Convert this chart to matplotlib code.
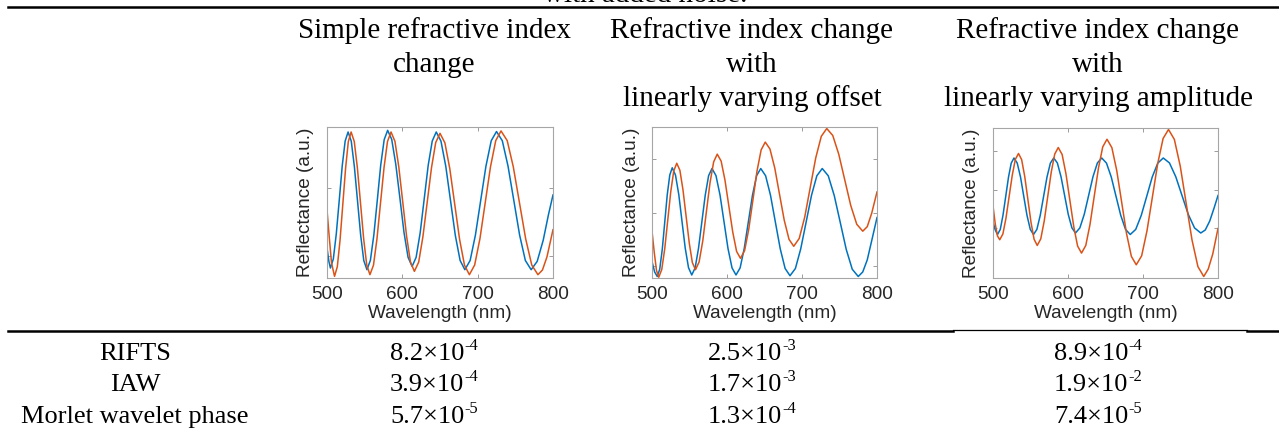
import matplotlib
matplotlib.use("Agg")
import matplotlib.pyplot as plt
from matplotlib.lines import Line2D

# ---------------------------------------------------------------- table text
col_titles = [
    ["Simple refractive index", "change"],
    ["Refractive index change", "with", "linearly varying offset"],
    ["Refractive index change", "with", "linearly varying amplitude"],
]
methods = ["RIFTS", "IAW", "Morlet wavelet phase"]
mantissas = [
    ["8.2", "2.5", "8.9"],
    ["3.9", "1.7", "1.9"],
    ["5.7", "1.3", "7.4"],
]
exponents = [
    ["-4", "-3", "-4"],
    ["-4", "-3", "-2"],
    ["-5", "-4", "-5"],
]

# ---------------------------------------------------------------- spectra
# Simple refractive index change
wl_s_blue = [500, 502.5, 504.5, 508.4, 512.3, 516.3, 520.2, 524.1, 528, 532.2, 536.3, 540.5,
             544.7, 548.8, 553, 557.6, 562.2, 566.8, 571.3, 575.9, 580.5, 585.9, 591.3, 596.8,
             602.2, 607.6, 613, 618.3, 623.7, 629, 634.3, 639.7, 645, 651.3, 657.7, 664, 670.3,
             676.7, 683, 690, 697, 704, 711, 718, 725, 732.7, 740.3, 748, 755.7, 763.3, 771,
             779, 787, 794, 800]
r_s_blue = [0.20, 0.11, 0.066, 0.126, 0.291, 0.517, 0.742, 0.907, 0.967, 0.906, 0.739, 0.511,
            0.283, 0.116, 0.055, 0.117, 0.286, 0.517, 0.747, 0.916, 0.978, 0.918, 0.753, 0.528,
            0.302, 0.137, 0.077, 0.137, 0.30, 0.522, 0.745, 0.907, 0.967, 0.906, 0.739, 0.511,
            0.283, 0.116, 0.055, 0.116, 0.284, 0.513, 0.741, 0.909, 0.97, 0.909, 0.741, 0.513,
            0.284, 0.116, 0.055, 0.11, 0.25, 0.42, 0.55]
wl_s_orange = [500, 503, 506, 510, 513.7, 517.3, 521, 524.7, 528.3, 532, 536.2, 540.3, 544.5,
               548.7, 552.8, 557, 561.7, 566.3, 571, 575.7, 580.3, 585, 590.2, 595.3, 600.5,
               605.7, 610.8, 616, 621.7, 627.3, 633, 638.7, 644.3, 650, 656.5, 663, 669.5, 676,
               682.5, 689, 696, 703, 710, 717, 724, 731, 739.2, 747.3, 755.5, 763.7, 771.8, 780,
               786, 792, 800]
r_s_orange = [0.45, 0.27, 0.10, 0.011, 0.075, 0.25, 0.489, 0.728, 0.903, 0.967, 0.904, 0.731,
              0.495, 0.258, 0.085, 0.022, 0.085, 0.258, 0.495, 0.731, 0.904, 0.967, 0.905, 0.736,
              0.506, 0.275, 0.106, 0.044, 0.105, 0.273, 0.501, 0.73, 0.897, 0.958, 0.895, 0.724,
              0.49, 0.256, 0.085, 0.022, 0.086, 0.26, 0.498, 0.736, 0.91, 0.974, 0.91, 0.736,
              0.498, 0.26, 0.086, 0.022, 0.053, 0.14, 0.32]

# Refractive index change with linearly varying offset
wl_o_blue = [500, 503.5, 507, 510.3, 513.7, 517, 520.3, 523.7, 527, 531.3, 535.7, 540, 544.3,
             548.7, 553, 557.5, 562, 566.5, 571, 575.5, 580, 585.3, 590.7, 596, 601.3, 606.7,
             612, 617.5, 623, 628.5, 634, 639.5, 645, 651.5, 658, 664.5, 671, 677.5, 684, 691.2,
             698.3, 705.5, 712.7, 719.8, 727, 735, 743, 751, 759, 767, 775, 781, 787, 794, 800]
r_o_blue = [0.11, 0.04, 0.01, 0.058, 0.19, 0.37, 0.55, 0.682, 0.73, 0.682, 0.553, 0.375, 0.198,
            0.068, 0.02, 0.067, 0.196, 0.373, 0.549, 0.678, 0.725, 0.678, 0.549, 0.373, 0.196,
            0.067, 0.02, 0.067, 0.196, 0.373, 0.549, 0.678, 0.725, 0.677, 0.548, 0.37, 0.193,
            0.063, 0.015, 0.063, 0.193, 0.37, 0.548, 0.677, 0.725, 0.677, 0.546, 0.368, 0.189,
            0.058, 0.01, 0.04, 0.12, 0.27, 0.40]
wl_o_orange = [500, 503, 506, 509, 513, 517, 521, 525, 529, 533, 537.2, 541.3, 545.5, 549.7,
               553.8, 558, 562.8, 567.7, 572.5, 577.3, 582.2, 587, 592.2, 597.3, 602.5, 607.7,
               612.8, 618, 623.5, 629, 634.5, 640, 645.5, 651, 657.3, 663.7, 670, 676.3, 682.7,
               689, 696.3, 703.7, 711, 718.3, 725.7, 733, 741, 749, 757, 765, 773, 781, 787, 793,
               800]
r_o_orange = [0.31, 0.17, 0.05, 0.005, 0.056, 0.194, 0.383, 0.571, 0.709, 0.76, 0.713, 0.584,
              0.408, 0.231, 0.102, 0.055, 0.106, 0.246, 0.438, 0.629, 0.769, 0.82, 0.774, 0.648,
              0.475, 0.303, 0.176, 0.13, 0.182, 0.323, 0.515, 0.708, 0.848, 0.90, 0.854, 0.728,
              0.555, 0.383, 0.256, 0.21, 0.262, 0.405, 0.60, 0.795, 0.938, 0.99, 0.944, 0.82,
              0.65, 0.48, 0.356, 0.31, 0.34, 0.43, 0.57]

# Refractive index change with linearly varying amplitude
wl_a_blue = [500, 503, 506, 509.7, 513.3, 517, 520.7, 524.3, 528, 532.3, 536.7, 541, 545.3,
             549.7, 554, 558.5, 563, 567.5, 572, 576.5, 581, 585.8, 590.7, 595.5, 600.3, 605.2,
             610, 615.8, 621.7, 627.5, 633.3, 639.2, 645, 651.3, 657.7, 664, 670.3, 676.7, 683,
             690.3, 697.7, 705, 712.3, 719.7, 727, 735.3, 743.7, 752, 760.3, 768.7, 777, 783,
             789, 795, 800]
r_a_blue = [0.376, 0.32, 0.29, 0.324, 0.418, 0.545, 0.673, 0.766, 0.80, 0.766, 0.673, 0.545,
            0.418, 0.324, 0.29, 0.324, 0.418, 0.545, 0.673, 0.766, 0.80, 0.767, 0.675, 0.55,
            0.425, 0.334, 0.30, 0.334, 0.425, 0.55, 0.675, 0.767, 0.80, 0.766, 0.673, 0.545,
            0.418, 0.324, 0.29, 0.324, 0.418, 0.545, 0.673, 0.766, 0.80, 0.767, 0.675, 0.55,
            0.425, 0.334, 0.30, 0.32, 0.38, 0.47, 0.55]
wl_a_orange = [500, 503, 506, 509, 513.2, 517.3, 521.5, 525.7, 529.8, 534, 538.2, 542.3, 546.5,
               550.7, 554.8, 559, 563.7, 568.3, 573, 577.7, 582.3, 587, 592.2, 597.3, 602.5,
               607.7, 612.8, 618, 623.7, 629.3, 635, 640.7, 646.3, 652, 658.5, 665, 671.5, 678,
               684.5, 691, 698.2, 705.3, 712.5, 719.7, 726.8, 734, 741.8, 749.7, 757.5, 765.3,
               773.2, 781, 787, 793, 800]
r_a_orange = [0.48, 0.36, 0.28, 0.255, 0.294, 0.399, 0.543, 0.686, 0.791, 0.83, 0.789, 0.677,
              0.524, 0.37, 0.258, 0.217, 0.261, 0.38, 0.544, 0.707, 0.826, 0.87, 0.823, 0.694,
              0.518, 0.342, 0.213, 0.166, 0.217, 0.356, 0.546, 0.735, 0.874, 0.925, 0.869,
              0.716, 0.507, 0.297, 0.144, 0.088, 0.148, 0.314, 0.539, 0.765, 0.93, 0.99, 0.924,
              0.745, 0.50, 0.255, 0.076, 0.01, 0.06, 0.16, 0.33]

wl_ticks = [500, 600, 700, 800]
refl_ticks = [
    [0.149, 0.598],
    [0.081, 0.429, 0.785],
    [0.332, 0.586, 0.847],
]

# ---------------------------------------------------------------- figure
W, H = 1279, 430
fig = plt.figure(figsize=(W / 100, H / 100), dpi=100)
fig.patch.set_facecolor("white")


def fx(px):
    return px / W


def fy(py):
    return 1 - py / H


SERIF = "Liberation Serif"
SANS = "Liberation Sans"
BLUE = "#0072BD"
ORANGE = "#D95319"
HEAD_FS = 21
ROW_FS = 19

# caption tail cut by the top edge
fig.text(fx(645), fy(2), "with added noise.", ha="center", va="baseline",
         family=SERIF, fontsize=HEAD_FS, color="black")

# rules
fig.add_artist(Line2D([fx(8), fx(1279)], [fy(7), fy(7)], color="black", lw=1.8))
fig.add_artist(Line2D([fx(8), fx(953)], [fy(331), fy(331)], color="black", lw=1.8))
fig.add_artist(Line2D([fx(1247), fx(1279)], [fy(331), fy(331)], color="black", lw=1.8))
fig.add_artist(Line2D([fx(953), fx(1247)], [fy(330), fy(330)], color="black", lw=0.9))

# column headings
col_centers = [434, 752, 1098]
head_baselines = [38, 72, 106]
for cx, lines in zip(col_centers, col_titles):
    for by, s in zip(head_baselines, lines):
        fig.text(fx(cx), fy(by), s, ha="center", va="baseline",
                 family=SERIF, fontsize=HEAD_FS, color="black")

# spectra panels
panels = [
    (327, 553, 127, 278, wl_s_blue, r_s_blue, wl_s_orange, r_s_orange),
    (652, 877, 127, 278, wl_o_blue, r_o_blue, wl_o_orange, r_o_orange),
    (993, 1218, 128, 278, wl_a_blue, r_a_blue, wl_a_orange, r_a_orange),
]
for k, (x0, x1, y0, y1, xb, yb, xo, yo) in enumerate(panels):
    ax = fig.add_axes([fx(x0), fy(y1), (x1 - x0) / W, (y1 - y0) / H])
    ax.plot(xb, yb, color=BLUE, lw=1.1)
    ax.plot(xo, yo, color=ORANGE, lw=1.1)
    ax.set_xlim(500, 800)
    ax.set_ylim(0, 1)
    ax.set_xticks(wl_ticks)
    ax.set_yticks(refl_ticks[k])
    ax.set_yticklabels([])
    ax.tick_params(direction="in", length=3, width=0.6, color="#8c8c8c",
                   top=True, right=True, labelsize=13.7, labelcolor="#262626", pad=6)
    for sp in ax.spines.values():
        sp.set_color("#a6a6a6")
        sp.set_linewidth(0.8)
    for lab in ax.get_xticklabels():
        lab.set_family(SANS)
    ax.set_xlabel("Wavelength (nm)", family=SANS, fontsize=13.7, color="#262626", labelpad=1)
    ax.set_ylabel("Reflectance (a.u.)", family=SANS, fontsize=13.7, color="#262626", labelpad=3)

# result rows
renderer = fig.canvas.get_renderer()
row_baselines = [360, 391, 423]
row_label_center = 135
for by, name, mants, exps in zip(row_baselines, methods, mantissas, exponents):
    fig.text(fx(row_label_center), fy(by), name, ha="center", va="baseline",
             family=SERIF, fontsize=ROW_FS, color="black")
    for cx, m, e in zip(col_centers, mants, exps):
        base = fig.text(0, fy(by), m + "\u00d710", ha="left", va="baseline",
                        family=SERIF, fontsize=ROW_FS, color="black")
        sup = fig.text(0, fy(by - 10), e, ha="left", va="baseline",
                       family=SERIF, fontsize=ROW_FS * 0.62, color="black")
        wb = base.get_window_extent(renderer).width
        ws = sup.get_window_extent(renderer).width
        left = cx - (wb + ws) / 2
        base.set_x(fx(left))
        sup.set_x(fx(left + wb))

fig.savefig("out.png", dpi=100, facecolor="white")
